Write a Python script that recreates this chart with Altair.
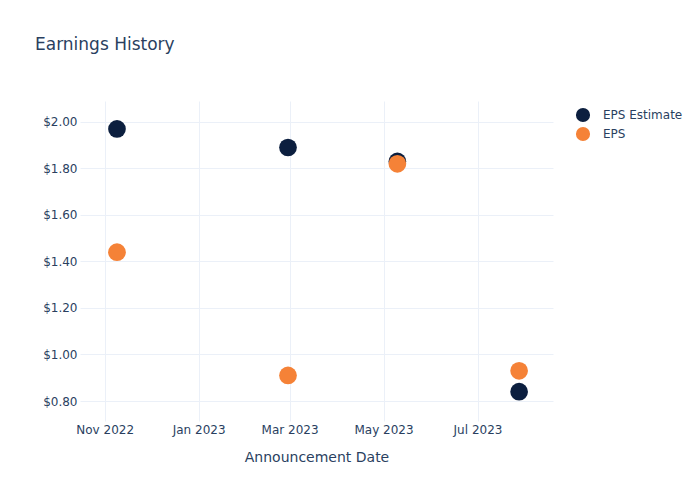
import altair as alt
import pandas as pd

dates = ["2022-11-09", "2023-02-28", "2023-05-10", "2023-07-28"]
eps_estimate = [1.97, 1.89, 1.83, 0.84]
eps = [1.44, 0.91, 1.82, 0.93]
series = ["EPS Estimate", "EPS"]
colors = ["#0c1f3f", "#f58237"]
y_ticks = [0.8, 1.0, 1.2, 1.4, 1.6, 1.8, 2.0]

rows = []
for d, v in zip(dates, eps_estimate):
    rows.append({"date": d, "value": v, "series": "EPS Estimate", "order": 0})
for d, v in zip(dates, eps):
    rows.append({"date": d, "value": v, "series": "EPS", "order": 1})
df = pd.DataFrame(rows)

text_color = "#2a3f5f"
grid_color = "#ebf0f8"

x_ticks = [
    alt.DateTime(year=2022, month=11, date=1, utc=True),
    alt.DateTime(year=2023, month=1, date=1, utc=True),
    alt.DateTime(year=2023, month=3, date=1, utc=True),
    alt.DateTime(year=2023, month=5, date=1, utc=True),
    alt.DateTime(year=2023, month=7, date=1, utc=True),
]

chart = alt.Chart(df).mark_circle(size=314, opacity=1).encode(
    x=alt.X(
        "date:T",
        scale=alt.Scale(
            type="utc",
            domain=[
                alt.DateTime(year=2022, month=10, date=16, utc=True),
                alt.DateTime(year=2023, month=8, date=19, utc=True),
            ],
            nice=False,
        ),
        axis=alt.Axis(
            values=x_ticks,
            format="%b %Y",
            title="Announcement Date",
            labelPadding=3,
            titlePadding=15,
        ),
    ),
    y=alt.Y(
        "value:Q",
        scale=alt.Scale(domain=[0.714, 2.09], nice=False, zero=False),
        axis=alt.Axis(values=y_ticks, format="$.2f", title=None, labelPadding=3),
    ),
    color=alt.Color(
        "series:N",
        scale=alt.Scale(domain=series, range=colors),
        legend=alt.Legend(
            title=None,
            orient="none",
            legendX=495,
            legendY=6,
            symbolSize=200,
            symbolType="circle",
            rowPadding=3,
            labelOffset=12,
            labelFontSize=12,
            labelColor=text_color,
            symbolOpacity=1,
        ),
    ),
    order=alt.Order("order:Q"),
).properties(
    width=473,
    height=320,
    title=alt.TitleParams(
        "Earnings History",
        anchor="start",
        frame="group",
        dx=-45,
        offset=47,
        fontSize=17,
        fontWeight="normal",
        color=text_color,
    ),
    autosize=alt.AutoSizeParams(type="none"),
    padding={"left": 72, "top": 93, "right": 139, "bottom": 71},
).configure(
    font="DejaVu Sans",
).configure_view(
    stroke=None,
).configure_axis(
    domain=False,
    ticks=False,
    tickSize=0,
    grid=True,
    gridColor=grid_color,
    gridWidth=1,
    labelFontSize=12,
    labelColor=text_color,
    labelFont="DejaVu Sans",
    titleFontSize=14,
    titleFontWeight="normal",
    titleColor=text_color,
    titleFont="DejaVu Sans",
)

chart.save("out.html", embed_options={"renderer": "svg", "actions": False})
